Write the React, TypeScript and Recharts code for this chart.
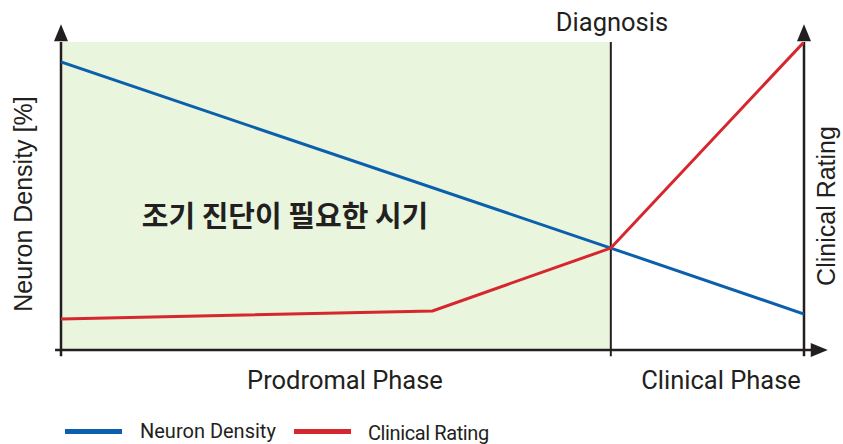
import React from 'react';
import {
  ComposedChart,
  Line,
  XAxis,
  YAxis,
  ReferenceArea,
  ReferenceLine,
  ReferenceDot,
  Customized,
} from 'recharts';

// ---- data ----
const neuronDensity = [
  { t: 0, v: 93.5 },
  { t: 74, v: 33.1 },
  { t: 100, v: 11.7 },
];
const clinicalRating = [
  { t: 0, v: 10.1 },
  { t: 50, v: 12.7 },
  { t: 74, v: 33.1 },
  { t: 100, v: 100 },
];
const seriesNames = ['Neuron Density', 'Clinical Rating'];
const seriesColors = ['#0b5fad', '#d6262e'];
const diagnosisT = 74;
const phaseLabels = ['Prodromal Phase', 'Clinical Phase'];
const axisTitles = ['Neuron Density [%]', 'Clinical Rating'];
const highlightText = '조기 진단이 필요한 시기';
const diagnosisLabel = 'Diagnosis';

const INK = '#231f20';
const W = 843;
const H = 444;
const M = { top: 42, right: 39, bottom: 94, left: 61 };

const upArrow = (props: any) => {
  const { cx, cy } = props;
  return <polygon points={`${cx},${cy} ${cx - 7},${cy + 17} ${cx + 7},${cy + 17}`} fill={INK} />;
};
const rightArrow = (props: any) => {
  const { cx, cy } = props;
  return <polygon points={`${cx},${cy} ${cx - 17},${cy - 7} ${cx - 17},${cy + 7}`} fill={INK} />;
};

const HighlightLabel = () => (
  <text
    x={285}
    y={227}
    textAnchor="middle"
    fontFamily='"Noto Sans CJK KR", sans-serif'
    fontWeight={700}
    fontSize={29}
    fill={INK}
  >
    {highlightText}
  </text>
);

const Texts = () => {
  const din = 'Roboto, "DejaVu Sans", sans-serif';
  const helv = '"Liberation Sans", Arial, sans-serif';
  return (
    <g>
      <text x={612} y={31} textAnchor="middle" fontFamily={din} fontSize={25.5} fill={INK}>
        {diagnosisLabel}
      </text>
      <text x={345} y={389} textAnchor="middle" fontFamily={din} fontSize={25.5} fill={INK}>
        {phaseLabels[0]}
      </text>
      <text x={721} y={389} textAnchor="middle" fontFamily={din} fontSize={25.5} fill={INK}>
        {phaseLabels[1]}
      </text>
      <text
        transform="translate(32,204) rotate(-90)"
        textAnchor="middle"
        fontFamily={helv}
        fontSize={25}
        fill={INK}
      >
        {axisTitles[0]}
      </text>
      <text
        transform="translate(835,206) rotate(-90)"
        textAnchor="middle"
        fontFamily={helv}
        fontSize={25}
        fill={INK}
      >
        {axisTitles[1]}
      </text>
      {/* legend */}
      <rect x={65} y={429} width={57} height={5} fill={seriesColors[0]} />
      <text x={140} y={438} fontFamily={din} fontSize={20} fill={INK}>
        {seriesNames[0]}
      </text>
      <rect x={294} y={429} width={57} height={5} fill={seriesColors[1]} />
      <text x={368} y={440} fontFamily={din} fontSize={20} letterSpacing={-0.4} fill={INK}>
        {seriesNames[1]}
      </text>
    </g>
  );
};

export default function App() {
  return (
    <div style={{ position: 'absolute', left: 0, top: 0, width: W, height: H, background: '#fff' }}>
      <ComposedChart width={W} height={H} margin={M}>
        <XAxis type="number" dataKey="t" domain={[0, 100]} allowDataOverflow hide />
        <YAxis type="number" dataKey="v" domain={[0, 100]} allowDataOverflow hide />
        <ReferenceArea
          x1={0}
          x2={diagnosisT}
          y1={0}
          y2={100}
          fill="#e9f5dc"
          fillOpacity={1}
          stroke="none"
          ifOverflow="visible"
          label={<HighlightLabel />}
        />
        {/* axes */}
        <ReferenceLine segment={[{ x: 0, y: -2 }, { x: 0, y: 100 }]} stroke={INK} strokeWidth={2.5} ifOverflow="visible" />
        <ReferenceLine segment={[{ x: 100, y: -2 }, { x: 100, y: 100 }]} stroke={INK} strokeWidth={2.5} ifOverflow="visible" />
        <ReferenceLine segment={[{ x: diagnosisT, y: -2 }, { x: diagnosisT, y: 100 }]} stroke={INK} strokeWidth={2} ifOverflow="visible" />
        <ReferenceLine segment={[{ x: -0.8, y: 0 }, { x: 101, y: 0 }]} stroke={INK} strokeWidth={2.5} ifOverflow="visible" />
        <ReferenceDot x={0} y={105.8} r={7} shape={upArrow} ifOverflow="visible" />
        <ReferenceDot x={100} y={105.8} r={7} shape={upArrow} ifOverflow="visible" />
        <ReferenceDot x={103.2} y={0} r={7} shape={rightArrow} ifOverflow="visible" />
        <Line
          data={neuronDensity}
          dataKey="v"
          name={seriesNames[0]}
          type="linear"
          stroke={seriesColors[0]}
          strokeWidth={3}
          dot={false}
          activeDot={false}
          isAnimationActive={false}
        />
        <Line
          data={clinicalRating}
          dataKey="v"
          name={seriesNames[1]}
          type="linear"
          stroke={seriesColors[1]}
          strokeWidth={3}
          dot={false}
          activeDot={false}
          isAnimationActive={false}
        />
        <Customized component={Texts} />
      </ComposedChart>
    </div>
  );
}
